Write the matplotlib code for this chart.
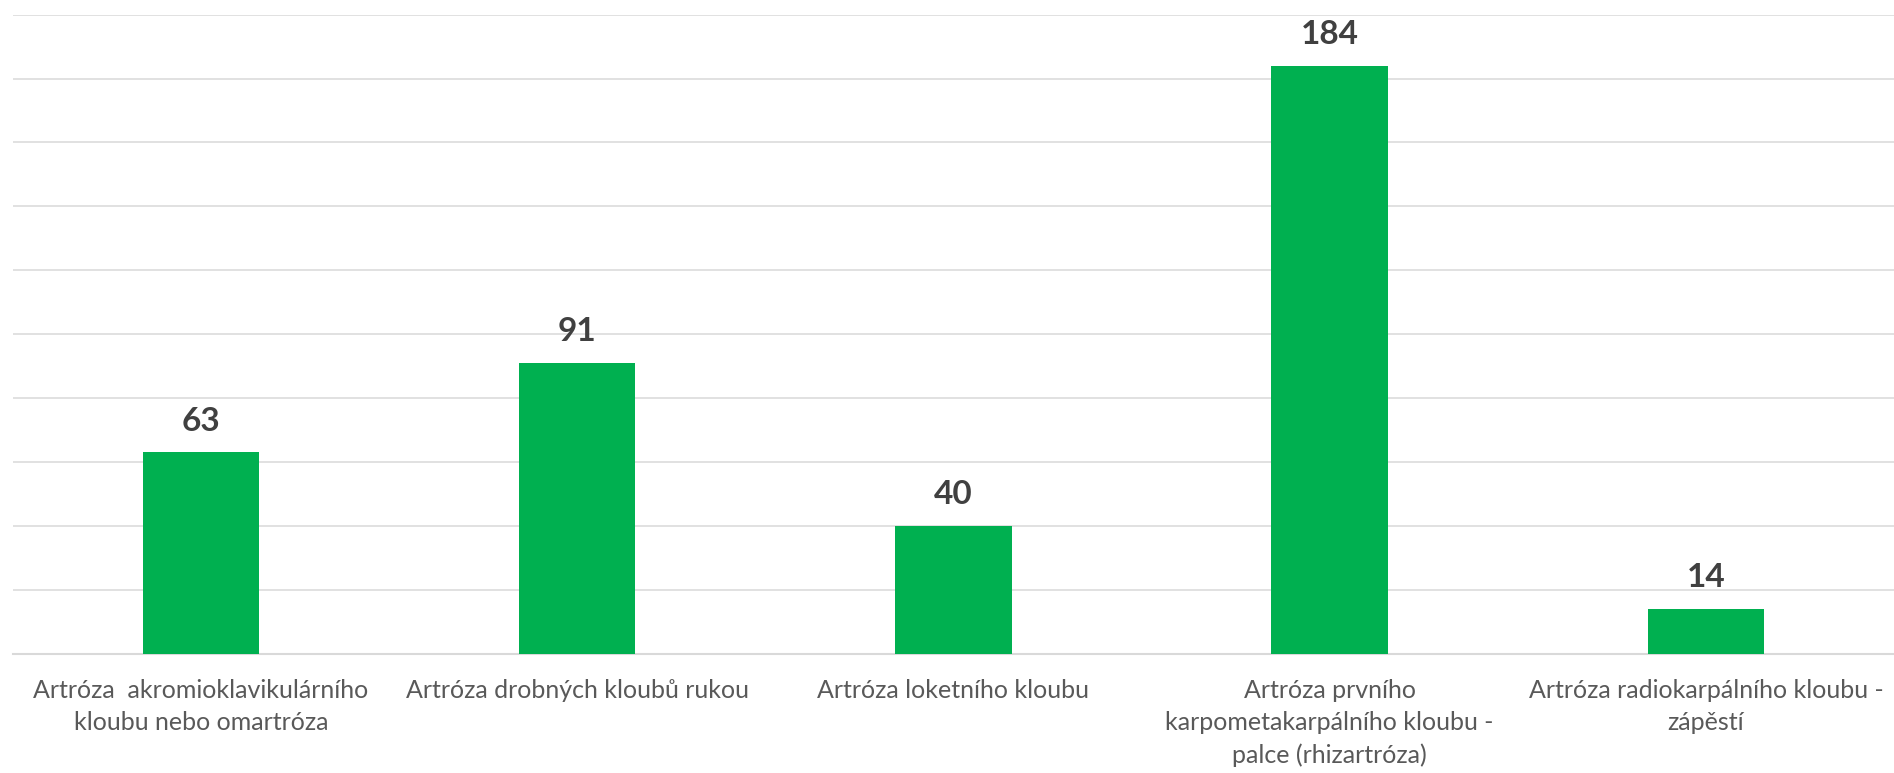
import matplotlib.pyplot as plt

# data
categories = [
    "Artróza  akromioklavikulárního\nkloubu nebo omartróza",
    "Artróza drobných kloubů rukou",
    "Artróza loketního kloubu",
    "Artróza prvního\nkarpometakarpálního kloubu -\npalce (rhizartróza)",
    "Artróza radiokarpálního kloubu -\nzápěstí",
]
values = [63, 91, 40, 184, 14]
y_ticks = list(range(0, 201, 20))

plt.rcParams['font.family'] = ['Lato', 'DejaVu Sans']

fig = plt.figure(figsize=(18.94, 7.73), dpi=100)
ax = fig.add_axes([0.0067, 0.1545, 0.9933, 0.8265])

x = list(range(len(categories)))
bars = ax.bar(x, values, width=0.31, color='#00b050', zorder=3)

# popisky hodnot
for xi, v in zip(x, values):
    ax.annotate(str(v), (xi, v), xytext=(0, 12), textcoords='offset points',
                ha='center', va='bottom', fontsize=24, fontweight='bold', color='#404040')

ax.set_xlim(-0.5, len(categories) - 0.5)
ax.set_ylim(0, 200)
ax.set_yticks(y_ticks)
ax.yaxis.grid(True, color='#d9d9d9', linewidth=1.1, zorder=0)
ax.tick_params(axis='y', left=False, labelleft=False)
ax.tick_params(axis='x', length=0, pad=18)
ax.set_xticks(x)
ax.set_xticklabels(categories, fontsize=18, color='#595959', linespacing=1.5)

for side in ['top', 'left', 'right']:
    ax.spines[side].set_visible(False)
ax.spines['bottom'].set_color('#d9d9d9')
ax.spines['bottom'].set_linewidth(1.5)

plt.savefig('out.png', dpi=100)
plt.close()
